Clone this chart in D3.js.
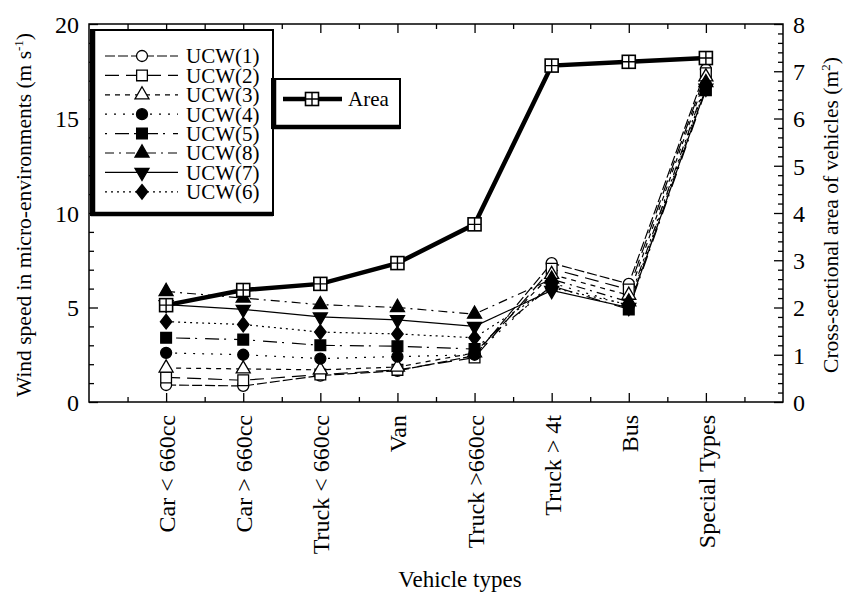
<!DOCTYPE html>
<html><head><meta charset="utf-8">
<script src="https://cdn.jsdelivr.net/npm/d3@7"></script>
<style>
html,body{margin:0;padding:0;background:#fff;}
text{font-family:"Liberation Serif","Times New Roman",serif;fill:#000;}
</style></head>
<body><svg id="c" width="852" height="602"></svg>
<script>
const categories = ["Car < 660cc","Car > 660cc","Truck < 660cc","Van","Truck >660cc","Truck > 4t","Bus","Special Types"];
const area = [2.05, 2.37, 2.5, 2.94, 3.76, 7.12, 7.2, 7.28];
const ucw1 = [0.9, 0.85, 1.4, 1.65, 2.45, 7.35, 6.25, 17.6];
const ucw2 = [1.3, 1.15, 1.45, 1.7, 2.35, 7.05, 5.95, 17.4];
const ucw3 = [1.8, 1.75, 1.7, 1.85, 2.6, 6.75, 5.65, 17.2];
const ucw4 = [2.6, 2.5, 2.3, 2.4, 2.5, 6.3, 5.1, 16.8];
const ucw5 = [3.4, 3.3, 3.0, 2.95, 2.8, 6.15, 4.9, 16.5];
const ucw8 = [5.85, 5.5, 5.15, 5.0, 4.65, 6.5, 5.3, 16.9];
const ucw7 = [5.15, 4.9, 4.5, 4.35, 4.0, 5.9, 5.0, 16.6];
const ucw6 = [4.25, 4.1, 3.7, 3.6, 3.4, 6.05, 5.15, 16.7];
const leftTicks = [0, 5, 10, 15, 20];
const rightTicks = [0, 1, 2, 3, 4, 5, 6, 7, 8];

const series = [
  {name:"UCW(1)", values:ucw1, sym:"circle", fill:false, dash:"10,3"},
  {name:"UCW(2)", values:ucw2, sym:"square", fill:false, dash:"14,7"},
  {name:"UCW(3)", values:ucw3, sym:"triangle", fill:false, dash:"5,5"},
  {name:"UCW(4)", values:ucw4, sym:"circle", fill:true, dash:"2,7"},
  {name:"UCW(5)", values:ucw5, sym:"square", fill:true, dash:"2,8,14,5"},
  {name:"UCW(8)", values:ucw8, sym:"triangle", fill:true, dash:"9,5,2,5"},
  {name:"UCW(7)", values:ucw7, sym:"tridown", fill:true, dash:null},
  {name:"UCW(6)", values:ucw6, sym:"diamond", fill:true, dash:"2,4"}
];

const svg = d3.select("#c");
const L = 89, R = 783, T = 24, B = 402;
const x = d3.scalePoint().domain(categories).range([L, R]).padding(1);
const step = x.step();
const yL = d3.scaleLinear().domain([0, 20]).range([B, T]);
const yR = d3.scaleLinear().domain([0, 8]).range([B, T]);

function symPath(s) {
  const types = {circle:d3.symbolCircle, square:d3.symbolSquare, triangle:d3.symbolTriangle, tridown:d3.symbolTriangle, diamond:d3.symbolDiamond};
  const sizes = {circle:95, square:115, triangle:85, tridown:85, diamond:85};
  return d3.symbol().type(types[s]).size(sizes[s])();
}
function drawMarker(g, s, fill, cx, cy) {
  g.append("path").attr("d", symPath(s))
   .attr("transform", `translate(${cx},${cy})` + (s === "tridown" ? " rotate(180)" : "") + (s === "diamond" ? " scale(1.15,0.85)" : ""))
   .attr("fill", fill ? "#000" : "#fff").attr("stroke", "#000").attr("stroke-width", 1.3);
}
function drawAreaMarker(g, cx, cy) {
  const s = 13;
  g.append("rect").attr("x", cx - s/2).attr("y", cy - s/2).attr("width", s).attr("height", s)
   .attr("fill", "#fff").attr("stroke", "#000").attr("stroke-width", 1.6);
  g.append("path").attr("d", `M${cx - s/2},${cy}H${cx + s/2}M${cx},${cy - s/2}V${cy + s/2}`)
   .attr("stroke", "#000").attr("stroke-width", 1.4);
}

// frame
svg.append("rect").attr("x", L).attr("y", T).attr("width", R - L).attr("height", B - T)
  .attr("fill", "none").attr("stroke", "#000").attr("stroke-width", 1.5);

// axes
const catPos = categories.map(c => x(c));
const minorX = d3.range(0, categories.length + 1).map(i => x(categories[0]) - step/2 + i*step);
const xs = d3.scaleIdentity();
svg.append("g").attr("transform", `translate(0,${B})`)
  .call(d3.axisBottom(xs).tickValues(catPos).tickSize(-9).tickFormat(""))
  .call(g => g.select(".domain").remove());
svg.append("g").attr("transform", `translate(0,${B})`)
  .call(d3.axisBottom(xs).tickValues(minorX).tickSize(-5).tickFormat(""))
  .call(g => g.select(".domain").remove());
svg.append("g").attr("transform", `translate(0,${T})`)
  .call(d3.axisTop(xs).tickValues(catPos).tickSize(-9).tickFormat(""))
  .call(g => g.select(".domain").remove());
svg.append("g").attr("transform", `translate(0,${T})`)
  .call(d3.axisTop(xs).tickValues(minorX).tickSize(-5).tickFormat(""))
  .call(g => g.select(".domain").remove());

// x labels
svg.append("g").selectAll("text").data(categories).join("text")
  .attr("transform", d => `translate(${x(d) + 9},${B + 13}) rotate(-90)`)
  .attr("text-anchor", "end").attr("font-size", 24).text(d => d);

// left axis
const gl = svg.append("g").attr("transform", `translate(${L},0)`)
  .call(d3.axisLeft(yL).tickValues(leftTicks).tickSize(-9).tickPadding(10).tickFormat(d3.format("d")));
gl.select(".domain").remove();
gl.selectAll("text").attr("font-size", 24).attr("font-family", "Liberation Serif").attr("dy", "0.35em");
svg.append("g").attr("transform", `translate(${L},0)`)
  .call(d3.axisLeft(yL).tickValues(d3.range(0, 21, 1).filter(v => v % 5)).tickSize(-5).tickFormat(""))
  .call(g => g.select(".domain").remove());

// right axis
const gr = svg.append("g").attr("transform", `translate(${R},0)`)
  .call(d3.axisRight(yR).tickValues(rightTicks).tickSize(-9).tickPadding(10).tickFormat(d3.format("d")));
gr.select(".domain").remove();
gr.selectAll("text").attr("font-size", 24).attr("font-family", "Liberation Serif").attr("dy", "0.35em");
svg.append("g").attr("transform", `translate(${R},0)`)
  .call(d3.axisRight(yR).tickValues(d3.range(0, 40, 1).filter(v => v % 5).map(v => v/5)).tickSize(-5).tickFormat(""))
  .call(g => g.select(".domain").remove());
svg.selectAll(".tick line").attr("stroke-width", 1.3);

// axis titles
svg.append("text").attr("transform", `translate(31,${(T + B)/2 + 2}) rotate(-90)`)
  .attr("text-anchor", "middle").attr("font-size", 21.5)
  .html('Wind speed in micro-environments (m s<tspan dy="-8" font-size="13">-1</tspan><tspan dy="8">)</tspan>');
svg.append("text").attr("transform", `translate(838,${(T + B)/2 + 2}) rotate(-90)`)
  .attr("text-anchor", "middle").attr("font-size", 21.5)
  .html('Cross-sectional area of vehicles (m<tspan dy="-8" font-size="13">2</tspan><tspan dy="8">)</tspan>');
svg.append("text").attr("x", (L + R)/2 + 24).attr("y", 587).attr("text-anchor", "middle")
  .attr("font-size", 23).text("Vehicle types");

// UCW lines
const line = d3.line().x((d, i) => x(categories[i])).y(d => yL(d));
const plot = svg.append("g");
series.forEach(s => {
  plot.append("path").attr("d", line(s.values)).attr("fill", "none")
    .attr("stroke", "#000").attr("stroke-width", 1.2)
    .attr("stroke-dasharray", s.dash);
});
series.forEach(s => {
  s.values.forEach((v, i) => drawMarker(plot, s.sym, s.fill, x(categories[i]), yL(v)));
});
// Area line
const aline = d3.line().x((d, i) => x(categories[i])).y(d => yR(d));
plot.append("path").attr("d", aline(area)).attr("fill", "none").attr("stroke", "#000").attr("stroke-width", 4.5);
area.forEach((v, i) => drawAreaMarker(plot, x(categories[i]), yR(v)));

// Legend 1
const lg = svg.append("g");
lg.append("rect").attr("x", 91).attr("y", 30).attr("width", 182).attr("height", 185)
  .attr("fill", "#fff").attr("stroke", "#000").attr("stroke-width", 2);
lg.append("path").attr("d", "M93,30V214H273").attr("fill", "none").attr("stroke", "#000").attr("stroke-width", 4.5);
series.forEach((s, k) => {
  const yy = 56 + k*19.4;
  lg.append("line").attr("x1", 105).attr("x2", 178).attr("y1", yy).attr("y2", yy)
    .attr("stroke", "#000").attr("stroke-width", 1.2).attr("stroke-dasharray", s.dash);
  drawMarker(lg, s.sym, s.fill, 142, yy);
  lg.append("text").attr("x", 186).attr("y", yy).attr("dy", "0.35em").attr("font-size", 21).text(s.name);
});
// Legend 2
const la = svg.append("g");
la.append("rect").attr("x", 272).attr("y", 79).attr("width", 128).attr("height", 49)
  .attr("fill", "#fff").attr("stroke", "#000").attr("stroke-width", 2);
la.append("path").attr("d", "M274,79V127H400").attr("fill", "none").attr("stroke", "#000").attr("stroke-width", 4.5);
la.append("line").attr("x1", 283).attr("x2", 342).attr("y1", 99).attr("y2", 99).attr("stroke", "#000").attr("stroke-width", 4.5);
drawAreaMarker(la, 312, 99);
la.append("text").attr("x", 348).attr("y", 99).attr("dy", "0.35em").attr("font-size", 21).text("Area");
</script></body></html>
